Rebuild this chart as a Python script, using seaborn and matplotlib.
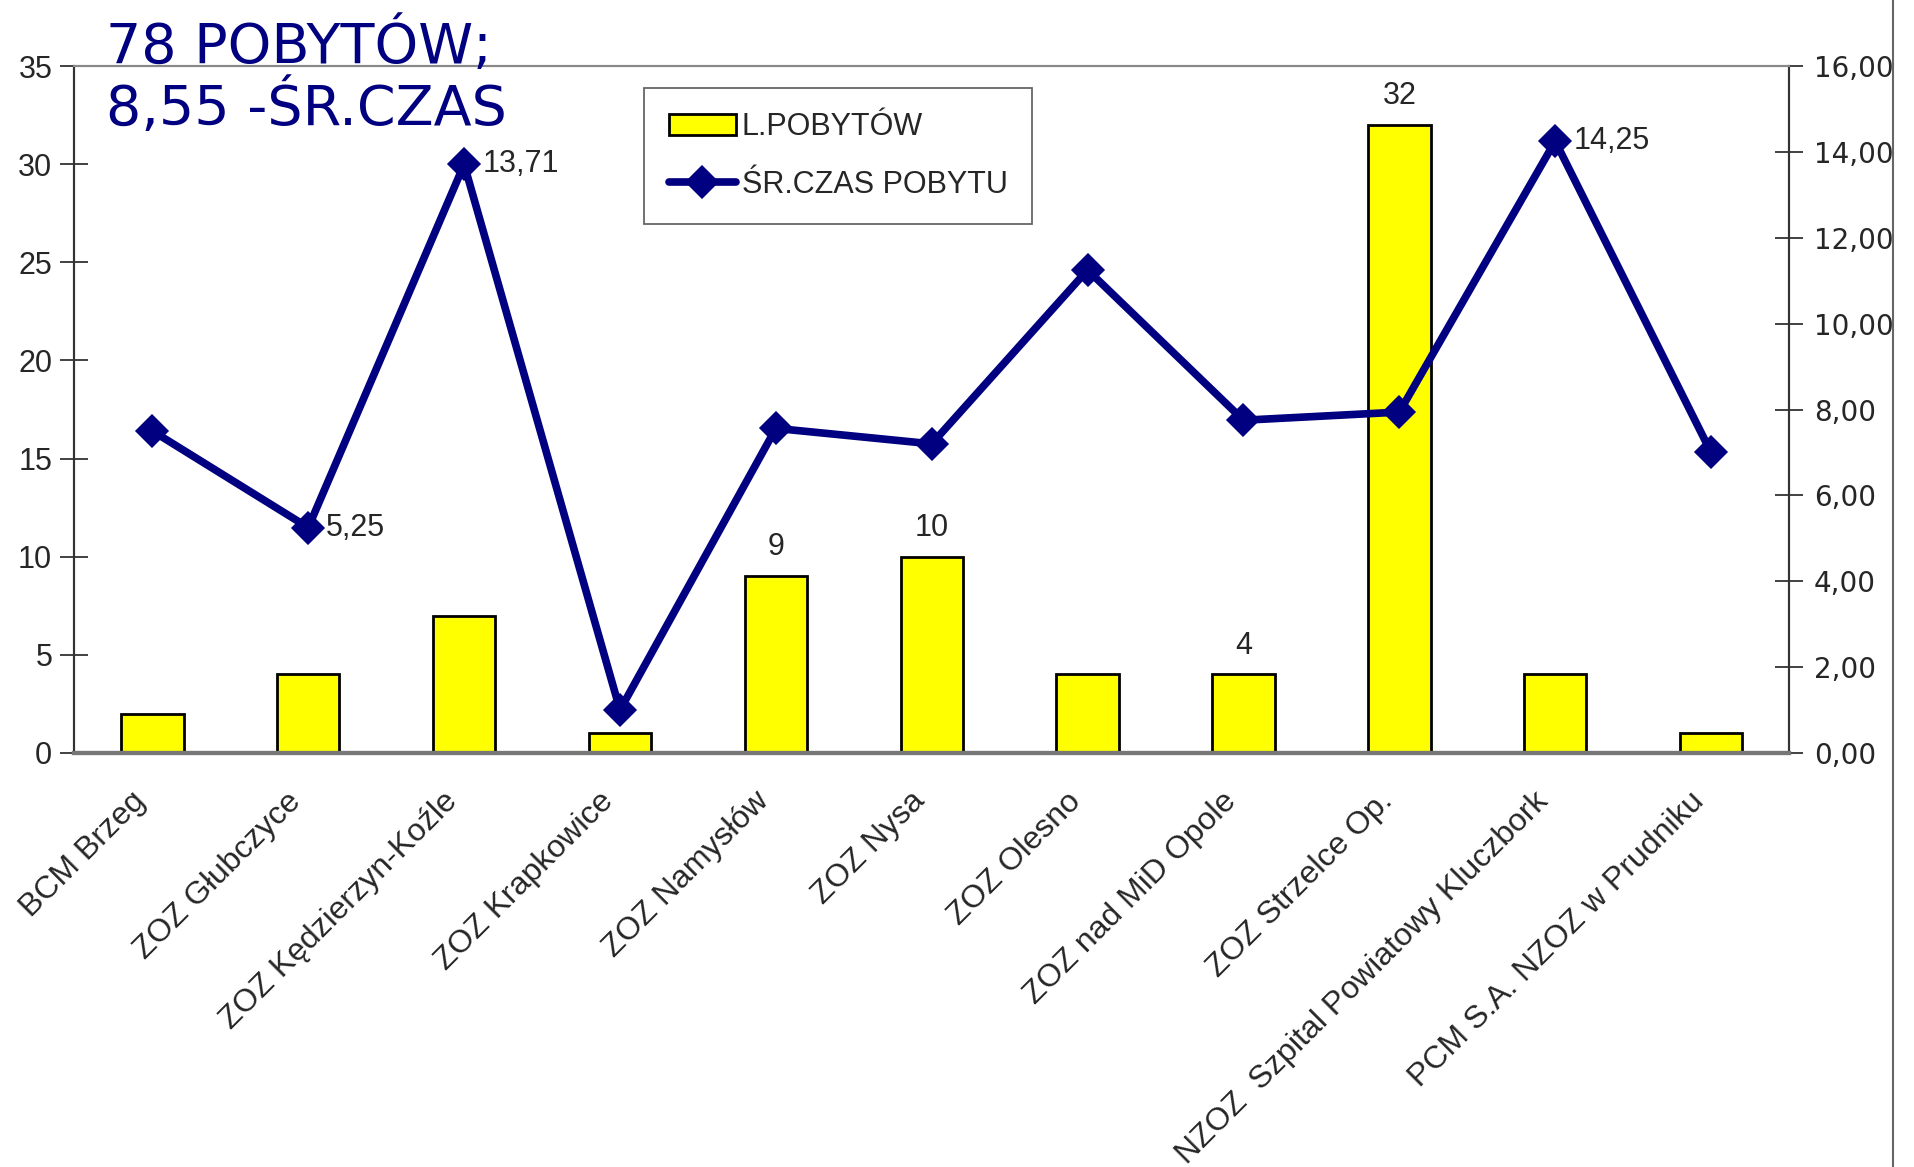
import matplotlib
matplotlib.use('Agg')
import matplotlib.pyplot as plt
import numpy as np
import pandas as pd
import seaborn as sns
from matplotlib.lines import Line2D
from matplotlib.ticker import FixedLocator, FuncFormatter
from matplotlib.transforms import ScaledTranslation

# data
categories = ['BCM Brzeg', 'ZOZ Głubczyce', 'ZOZ Kędzierzyn-Koźle', 'ZOZ Krapkowice',
              'ZOZ Namysłów', 'ZOZ Nysa', 'ZOZ Olesno', 'ZOZ nad MiD Opole',
              'ZOZ Strzelce Op.', 'NZOZ  Szpital Powiatowy Kluczbork',
              'PCM S.A. NZOZ w Prudniku']
stays = [2, 4, 7, 1, 9, 10, 4, 4, 32, 4, 1]
avg_time = [7.5, 5.25, 13.71, 1.0, 7.56, 7.2, 11.25, 7.75, 7.94, 14.25, 7.0]
bar_labelled = ['ZOZ Namysłów', 'ZOZ Nysa', 'ZOZ nad MiD Opole', 'ZOZ Strzelce Op.']
line_labelled = ['ZOZ Głubczyce', 'ZOZ Kędzierzyn-Koźle', 'NZOZ  Szpital Powiatowy Kluczbork']

df = pd.DataFrame({'oddzial': categories, 'pobyty': stays, 'czas': avg_time})

sns.set_style('white')
plt.rcParams['font.family'] = ['Liberation Sans', 'DejaVu Sans']

NAVY = '#000080'
fig = plt.figure(figsize=(19.14, 11.67), dpi=100)
ax = fig.add_axes([0.0389, 0.3548, 0.8958, 0.5886])

sns.barplot(data=df, x='oddzial', y='pobyty', color='#FFFF00', edgecolor='black',
            linewidth=2, width=0.4, saturation=1, errorbar=None, ax=ax,
            label='L.POBYTÓW')

ax2 = ax.twinx()
sns.pointplot(data=df, x='oddzial', y='czas', color=NAVY, markers='D', linestyles='-',
              errorbar=None, ax=ax2, markersize=13, linewidth=5.5,
              label='ŚR.CZAS POBYTU')

ax.set_xlim(-0.5, len(categories) - 0.5)
ax.set_ylim(0, 35)
ax2.set_ylim(0, 16)
ax.set_yticks(range(0, 36, 5))
ax2.set_yticks(range(0, 17, 2))
ax2.yaxis.set_major_formatter(FuncFormatter(lambda v, p: f'{v:.2f}'.replace('.', ',')))
ax.set_xlabel('')
ax.set_ylabel('')
ax2.set_ylabel('')

# category ticks: labels at centres, tick marks at boundaries
ax.set_xticks(range(len(categories)))
ax.set_xticklabels(categories, rotation=45, ha='right', rotation_mode='anchor',
                   fontsize=23)
ax.xaxis.set_minor_locator(FixedLocator(np.arange(-0.5, len(categories), 1.0)))
ax.tick_params(axis='x', which='major', length=0, pad=24)
ax.tick_params(axis='x', which='minor', direction='inout', length=20, width=1.3,
               color='#555555')
ax2.tick_params(axis='x', which='both', length=0)
ax.tick_params(axis='y', direction='inout', length=20, width=1.3, color='#333333',
               labelsize=22, pad=6)
ax2.tick_params(axis='y', direction='inout', length=20, width=1.3, color='#333333',
                labelsize=20, pad=8)
for lab in ax2.get_yticklabels():
    lab.set_fontfamily('DejaVu Sans')
# nudge the rotated labels a little to the left (after tick_params, which resets transforms)
shift = ScaledTranslation(-0.22, 0, fig.dpi_scale_trans)
for lab in ax.get_xticklabels():
    lab.set_transform(lab.get_transform() + shift)

for a in (ax, ax2):
    a.spines['top'].set_color('#888888')
    a.spines['top'].set_linewidth(1.5)
    a.spines['bottom'].set_color('#777777')
    a.spines['bottom'].set_linewidth(3)
    a.spines['left'].set_color('#333333')
    a.spines['left'].set_linewidth(1.5)
    a.spines['right'].set_color('#333333')
    a.spines['right'].set_linewidth(1.5)
ax2.set_zorder(ax.get_zorder() + 1)
ax2.patch.set_visible(False)

# value labels
bar_texts = [str(v) if c in bar_labelled else '' for c, v in zip(categories, stays)]
ax.bar_label(ax.containers[0], labels=bar_texts, padding=10, fontsize=22)
for i, (c, v) in enumerate(zip(categories, avg_time)):
    if c in line_labelled:
        ax2.annotate(f'{v:.2f}'.replace('.', ','), (i, v), xytext=(13, 0),
                     textcoords='offset points', ha='left', va='center', fontsize=22)

# legend
h1, l1 = ax.get_legend_handles_labels()
h2, l2 = ax2.get_legend_handles_labels()
if ax.get_legend():
    ax.get_legend().remove()
if ax2.get_legend():
    ax2.get_legend().remove()
leg = fig.legend(h1 + h2, l1 + l2, loc='upper left', bbox_to_anchor=(0.3365, 0.9246),
                 fontsize=22, frameon=True, fancybox=False, framealpha=1,
                 edgecolor='#666666', borderpad=0.8, labelspacing=0.9,
                 handlelength=2.2, handletextpad=0.2, borderaxespad=0)
leg.get_frame().set_linewidth(1.3)

# big note in the corner
fig.text(0.0555, 0.946, '78 POBYTÓW;', fontsize=40, color=NAVY,
         family='DejaVu Sans', va='baseline', ha='left')
fig.text(0.0555, 0.893, '8,55 -ŚR.CZAS', fontsize=40, color=NAVY,
         family='DejaVu Sans', va='baseline', ha='left')

# chart area border on the right
fig.add_artist(Line2D([0.989, 0.989], [0, 1], transform=fig.transFigure,
                      color='#666666', linewidth=1.5))

fig.savefig('out.png', dpi=100)
